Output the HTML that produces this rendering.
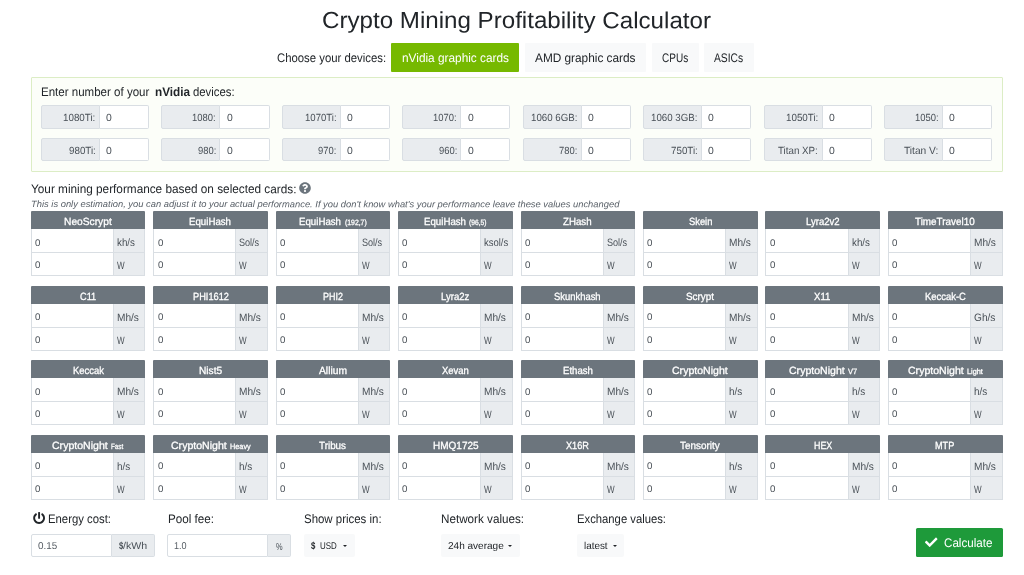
<!DOCTYPE html>
<html lang="en"><head><meta charset="utf-8"><title>Crypto Mining Profitability Calculator</title>
<style>
*{box-sizing:border-box}
html,body{margin:0;padding:0}
body{width:1024px;height:575px;position:relative;overflow:hidden;background:#fff;color:#212529;font-family:"Liberation Sans",sans-serif;font-size:12.4px}
.title{position:absolute;left:0;top:5.400px;width:1024px;margin:0;text-align:center;font-weight:400;font-size:23.2px;line-height:30px;padding-left:9px}
.choose{position:absolute;left:0;top:43px;height:29px;width:1024px}
.choose .lbl{position:absolute;left:277.300px;top:0.700px;line-height:29px;font-size:12.4px;white-space:nowrap}
.tab{position:absolute;top:0;height:29px;line-height:29px;padding-top:0.700px;text-align:center;background:#f8f9fa;font-size:12.4px;white-space:nowrap;border-radius:1px}
.tab.act{background:#76b900;color:#fff}
.panel{position:absolute;left:31px;top:77px;width:972px;height:95px;border:1px solid #dcedc5;background:#fcfef9;border-radius:1px}
.ptitle{position:absolute;left:8.800px;top:4px;font-size:12.4px;line-height:20px;white-space:pre}
.dg{position:absolute;width:108.200px;height:23.500px;display:flex;font-size:10.4px}
.dl{width:59px;height:100%;background:#e9ecef;border:1px solid #d9dee3;border-radius:2px 0 0 2px;text-align:right;padding-right:3.400px;padding-top:1.300px;line-height:21px;color:#495057;white-space:nowrap}
.di{flex:1;height:100%;background:#fff;border:1px solid #d9dee3;border-left:0;border-radius:0 2px 2px 0;padding-left:6.300px;padding-top:0.700px;line-height:21px;color:#495057}
.perf{position:absolute;left:31px;top:179px;font-size:12.4px;line-height:20px;white-space:nowrap}
.q{width:12px;height:12px;vertical-align:-1.150px;margin-left:-1px}
.note{position:absolute;left:31px;top:197px;font-size:9.2px;line-height:14px;font-style:italic;color:#596068;white-space:nowrap}
.card{position:absolute;width:114px;height:65px;font-size:9.7px}
.ch{height:18.200px;padding-top:2.200px;background:#6c757d;color:#fff;text-align:center;line-height:18.500px;font-size:10.4px;border-radius:1px 1px 0 0;white-space:nowrap;-webkit-text-stroke:0.3px #fff}
.ch small{font-size:7.7px;margin-left:3.300px}
.cr{display:flex;height:23px;margin-top:0}
.cr.r1{height:23.700px}
.cr.r1 .cv{padding-top:2.400px}
.cr.r1 .cu{padding-top:1.700px}
.cv{flex:1;border:1px solid #d9dee3;border-top:0;background:#fff;padding-left:3.300px;padding-top:1.300px;line-height:22px;color:#495057}
.cu{width:31.500px;border:1px solid #d9dee3;border-left:0;border-top:0;background:#e9ecef;padding-left:3.300px;padding-top:1.000px;font-size:10.7px;line-height:22px;color:#495057;white-space:nowrap}
.bl{position:absolute;top:509px;font-size:12.4px;line-height:20px;white-space:nowrap}
.pw{width:12.200px;height:12.200px;vertical-align:-1.300px;margin-left:-0.300px}
.ig{position:absolute;top:533.500px;height:23px;display:flex;font-size:10px;color:#495057}
.iv{flex:1;border:1px solid #d9dee3;background:#fff;padding-left:5.500px;padding-top:0.800px;line-height:21px;border-radius:2px 0 0 2px;color:#555c63}
.iu{border:1px solid #d9dee3;border-left:0;background:#e9ecef;text-align:center;line-height:21px;padding-top:0.800px;border-radius:0 2px 2px 0}
.dd{position:absolute;top:533.500px;height:23px;background:#f8f9fa;font-size:10px;line-height:23px;text-align:left;padding-left:7.300px;padding-top:0.800px;white-space:nowrap;border-radius:2px}
.sc{font-size:9.8px;margin-left:4.300px}
.caret{display:inline-block;width:0;height:0;border-left:2.500px solid transparent;border-right:2.500px solid transparent;border-top:2.600px solid #212529;vertical-align:2.600px}
.calc{position:absolute;left:916px;top:528px;width:86.500px;height:28.500px;background:#1e9a3a;color:#fff;font-size:12.4px;line-height:28.500px;padding-top:1.200px;padding-right:0.800px;text-align:center;border-radius:1.500px;white-space:nowrap}
.ck{width:12.500px;height:12.500px;vertical-align:-0.900px}
.f{display:inline-block;transform-origin:0 50%;white-space:nowrap}
.z{display:inline-block;transform:rotate(0.03deg)}

</style></head>
<body>
<h1 class="title"><span class="f" style="transform:rotate(0.03deg) scaleX(1.0408);margin-right:15.23px">Crypto Mining Profitability Calculator</span></h1>
<div class="choose"><span class="lbl"><span class="f" style="transform:rotate(0.03deg) scaleX(0.9157);margin-right:-10.05px">Choose your devices:</span></span><a class="tab act" style="left:391.25px;width:127.75px"><span class="f" style="transform:rotate(0.03deg) scaleX(0.9549);margin-right:-5.06px">nVidia graphic cards</span></a><a class="tab" style="left:524.5px;width:121.75px"><span class="f" style="transform:rotate(0.03deg) scaleX(0.9538);margin-right:-4.87px">AMD graphic cards</span></a><a class="tab" style="left:651.5px;width:47px"><span class="f" style="transform:rotate(0.03deg) scaleX(0.8084);margin-right:-6.20px">CPUs</span></a><a class="tab" style="left:704px;width:50px"><span class="f" style="transform:rotate(0.03deg) scaleX(0.8305);margin-right:-5.95px">ASICs</span></a></div>
<div class="panel"><div class="ptitle"><span class="f" style="transform:rotate(0.03deg) scaleX(0.9309);margin-right:-8.04px">Enter number of your</span><b style="margin-left:5.600px"><span class="f" style="transform:rotate(0.03deg) scaleX(0.9497);margin-right:-1.86px">nVidia</span></b><span style="margin-left:3.200px"></span><span class="f" style="transform:rotate(0.03deg) scaleX(0.9153);margin-right:-3.85px">devices:</span></div>
<div class="dg" style="left:8.90px;top:26.90px;height:24px"><span class="dl"><span class="f" style="transform:rotate(0.03deg) scaleX(0.9435);margin-right:-1.93px">1080Ti:</span></span><span class="di"><span class="z">0</span></span></div>
<div class="dg" style="left:129.36px;top:26.90px;height:24px"><span class="dl"><span class="f" style="transform:rotate(0.03deg) scaleX(0.9058);margin-right:-2.45px">1080:</span></span><span class="di"><span class="z">0</span></span></div>
<div class="dg" style="left:249.82px;top:26.90px;height:24px"><span class="dl"><span class="f" style="transform:rotate(0.03deg) scaleX(0.9211);margin-right:-2.70px">1070Ti:</span></span><span class="di"><span class="z">0</span></span></div>
<div class="dg" style="left:370.28px;top:26.90px;height:24px"><span class="dl"><span class="f" style="transform:rotate(0.03deg) scaleX(0.9058);margin-right:-2.45px">1070:</span></span><span class="di"><span class="z">0</span></span></div>
<div class="dg" style="left:490.74px;top:26.90px;height:24px"><span class="dl"><span class="f" style="transform:rotate(0.03deg) scaleX(0.9325);margin-right:-3.35px">1060 6GB:</span></span><span class="di"><span class="z">0</span></span></div>
<div class="dg" style="left:611.20px;top:26.90px;height:24px"><span class="dl"><span class="f" style="transform:rotate(0.03deg) scaleX(0.9325);margin-right:-3.35px">1060 3GB:</span></span><span class="di"><span class="z">0</span></span></div>
<div class="dg" style="left:731.66px;top:26.90px;height:24px"><span class="dl"><span class="f" style="transform:rotate(0.03deg) scaleX(0.9435);margin-right:-1.93px">1050Ti:</span></span><span class="di"><span class="z">0</span></span></div>
<div class="dg" style="left:852.12px;top:26.90px;height:24px"><span class="dl"><span class="f" style="transform:rotate(0.03deg) scaleX(0.9058);margin-right:-2.45px">1050:</span></span><span class="di"><span class="z">0</span></span></div>
<div class="dg" style="left:8.90px;top:59.70px;height:23.4px"><span class="dl"><span class="f" style="transform:rotate(0.03deg) scaleX(0.9418);margin-right:-1.66px">980Ti:</span></span><span class="di" style="padding-top:1.500px"><span class="z">0</span></span></div>
<div class="dg" style="left:129.36px;top:59.70px;height:23.4px"><span class="dl"><span class="f" style="transform:rotate(0.03deg) scaleX(0.9050);margin-right:-1.92px">980:</span></span><span class="di" style="padding-top:1.500px"><span class="z">0</span></span></div>
<div class="dg" style="left:249.82px;top:59.70px;height:23.4px"><span class="dl"><span class="f" style="transform:rotate(0.03deg) scaleX(0.9050);margin-right:-1.92px">970:</span></span><span class="di" style="padding-top:1.500px"><span class="z">0</span></span></div>
<div class="dg" style="left:370.28px;top:59.70px;height:23.4px"><span class="dl"><span class="f" style="transform:rotate(0.03deg) scaleX(0.9050);margin-right:-1.92px">960:</span></span><span class="di" style="padding-top:1.500px"><span class="z">0</span></span></div>
<div class="dg" style="left:490.74px;top:59.70px;height:23.4px"><span class="dl"><span class="f" style="transform:rotate(0.03deg) scaleX(0.9050);margin-right:-1.92px">780:</span></span><span class="di" style="padding-top:1.500px"><span class="z">0</span></span></div>
<div class="dg" style="left:611.20px;top:59.70px;height:23.4px"><span class="dl"><span class="f" style="transform:rotate(0.03deg) scaleX(0.9418);margin-right:-1.66px">750Ti:</span></span><span class="di" style="padding-top:1.500px"><span class="z">0</span></span></div>
<div class="dg" style="left:731.66px;top:59.70px;height:23.4px"><span class="dl"><span class="f" style="transform:rotate(0.03deg) scaleX(0.9406);margin-right:-2.51px">Titan XP:</span></span><span class="di" style="padding-top:1.500px"><span class="z">0</span></span></div>
<div class="dg" style="left:852.12px;top:59.70px;height:23.4px"><span class="dl"><span class="f" style="transform:rotate(0.03deg) scaleX(0.9811);margin-right:-0.66px">Titan V:</span></span><span class="di" style="padding-top:1.500px"><span class="z">0</span></span></div>
</div>
<div class="perf"><span class="f" style="transform:rotate(0.03deg) scaleX(0.9507);margin-right:-13.76px">Your mining performance based on selected cards:</span> <svg class="q" viewBox="0 0 512 512"><path fill="#6c757d" d="M504 256c0 136.997-111.043 248-248 248S8 392.997 8 256C8 119.083 119.043 8 256 8s248 111.083 248 248zM262.655 90c-54.497 0-89.255 22.957-116.549 63.758-3.536 5.286-2.353 12.415 2.715 16.258l34.699 26.31c5.205 3.947 12.621 3.008 16.665-2.122 17.864-22.658 30.113-35.797 57.303-35.797 20.429 0 45.698 13.148 45.698 32.958 0 14.976-12.363 22.667-32.534 33.976C247.128 238.528 216 254.941 216 296v4c0 6.627 5.373 12 12 12h56c6.627 0 12-5.373 12-12v-1.333c0-28.462 83.186-29.647 83.186-106.667 0-58.002-60.165-102-116.531-102zM256 338c-25.365 0-46 20.635-46 46 0 25.364 20.635 46 46 46s46-20.636 46-46c0-25.365-20.635-46-46-46z"/></svg></div>
<div class="note"><span class="f" style="transform:rotate(0.03deg) scaleX(1.0197);margin-right:11.37px">This is only estimation, you can adjust it to your actual performance. If you don't know what's your performance leave these values unchanged</span></div>
<div class="card" style="left:31.00px;top:211.30px;width:114.1px"><div class="ch"><span class="f" style="transform:rotate(0.03deg) scaleX(0.9841);margin-right:-0.77px">NeoScrypt</span></div><div class="cr r1"><span class="cv"><span class="z">0</span></span><span class="cu"><span class="f" style="transform:rotate(0.03deg) scaleX(0.9140);margin-right:-1.69px">kh/s</span></span></div><div class="cr"><span class="cv"><span class="z">0</span></span><span class="cu"><span class="f" style="transform:rotate(0.03deg) scaleX(0.7545);margin-right:-2.48px">W</span></span></div></div>
<div class="card" style="left:153.39px;top:211.30px;width:114.2px"><div class="ch"><span class="f" style="transform:rotate(0.03deg) scaleX(0.9321);margin-right:-3.06px">EquiHash</span></div><div class="cr r1"><span class="cv"><span class="z">0</span></span><span class="cu"><span class="f" style="transform:rotate(0.03deg) scaleX(0.8477);margin-right:-3.62px">Sol/s</span></span></div><div class="cr"><span class="cv"><span class="z">0</span></span><span class="cu"><span class="f" style="transform:rotate(0.03deg) scaleX(0.7545);margin-right:-2.48px">W</span></span></div></div>
<div class="card" style="left:275.78px;top:211.30px;width:114.3px"><div class="ch"><span class="f" style="transform:rotate(0.03deg) scaleX(0.9321);margin-right:-3.06px">EquiHash</span><small><span class="f" style="transform:rotate(0.03deg) scaleX(0.8912);margin-right:-2.65px">(192,7)</span></small></div><div class="cr r1"><span class="cv"><span class="z">0</span></span><span class="cu"><span class="f" style="transform:rotate(0.03deg) scaleX(0.8477);margin-right:-3.62px">Sol/s</span></span></div><div class="cr"><span class="cv"><span class="z">0</span></span><span class="cu"><span class="f" style="transform:rotate(0.03deg) scaleX(0.7545);margin-right:-2.48px">W</span></span></div></div>
<div class="card" style="left:398.17px;top:211.30px;width:114.4px"><div class="ch"><span class="f" style="transform:rotate(0.03deg) scaleX(0.9321);margin-right:-3.06px">EquiHash</span><small><span class="f" style="transform:rotate(0.03deg) scaleX(0.8698);margin-right:-2.61px">(96,5)</span></small></div><div class="cr r1"><span class="cv"><span class="z">0</span></span><span class="cu"><span class="f" style="transform:rotate(0.03deg) scaleX(0.8841);margin-right:-3.16px">ksol/s</span></span></div><div class="cr"><span class="cv"><span class="z">0</span></span><span class="cu"><span class="f" style="transform:rotate(0.03deg) scaleX(0.7545);margin-right:-2.48px">W</span></span></div></div>
<div class="card" style="left:520.56px;top:211.30px;width:114.5px"><div class="ch"><span class="f" style="transform:rotate(0.03deg) scaleX(0.9359);margin-right:-1.96px">ZHash</span></div><div class="cr r1"><span class="cv"><span class="z">0</span></span><span class="cu"><span class="f" style="transform:rotate(0.03deg) scaleX(0.8477);margin-right:-3.62px">Sol/s</span></span></div><div class="cr"><span class="cv"><span class="z">0</span></span><span class="cu"><span class="f" style="transform:rotate(0.03deg) scaleX(0.7545);margin-right:-2.48px">W</span></span></div></div>
<div class="card" style="left:642.95px;top:211.30px;width:114.6px"><div class="ch"><span class="f" style="transform:rotate(0.03deg) scaleX(0.9003);margin-right:-2.59px">Skein</span></div><div class="cr r1"><span class="cv"><span class="z">0</span></span><span class="cu"><span class="f" style="transform:rotate(0.03deg) scaleX(0.9467);margin-right:-1.23px">Mh/s</span></span></div><div class="cr"><span class="cv"><span class="z">0</span></span><span class="cu"><span class="f" style="transform:rotate(0.03deg) scaleX(0.7545);margin-right:-2.48px">W</span></span></div></div>
<div class="card" style="left:765.34px;top:211.30px;width:114.7px"><div class="ch"><span class="f" style="transform:rotate(0.03deg) scaleX(0.9198);margin-right:-2.93px">Lyra2v2</span></div><div class="cr r1"><span class="cv"><span class="z">0</span></span><span class="cu"><span class="f" style="transform:rotate(0.03deg) scaleX(0.9140);margin-right:-1.69px">kh/s</span></span></div><div class="cr"><span class="cv"><span class="z">0</span></span><span class="cu"><span class="f" style="transform:rotate(0.03deg) scaleX(0.7545);margin-right:-2.48px">W</span></span></div></div>
<div class="card" style="left:887.73px;top:211.30px;width:114.8px"><div class="ch"><span class="f" style="transform:rotate(0.03deg) scaleX(0.9505);margin-right:-3.10px">TimeTravel10</span></div><div class="cr r1"><span class="cv"><span class="z">0</span></span><span class="cu"><span class="f" style="transform:rotate(0.03deg) scaleX(0.9467);margin-right:-1.23px">Mh/s</span></span></div><div class="cr"><span class="cv"><span class="z">0</span></span><span class="cu"><span class="f" style="transform:rotate(0.03deg) scaleX(0.7545);margin-right:-2.48px">W</span></span></div></div>
<div class="card" style="left:31.00px;top:285.75px;width:114.1px"><div class="ch"><span class="f" style="transform:rotate(0.03deg) scaleX(0.8833);margin-right:-2.13px">C11</span></div><div class="cr r1"><span class="cv"><span class="z">0</span></span><span class="cu"><span class="f" style="transform:rotate(0.03deg) scaleX(0.9467);margin-right:-1.23px">Mh/s</span></span></div><div class="cr"><span class="cv"><span class="z">0</span></span><span class="cu"><span class="f" style="transform:rotate(0.03deg) scaleX(0.7545);margin-right:-2.48px">W</span></span></div></div>
<div class="card" style="left:153.39px;top:285.75px;width:114.2px"><div class="ch"><span class="f" style="transform:rotate(0.03deg) scaleX(0.8879);margin-right:-4.53px">PHI1612</span></div><div class="cr r1"><span class="cv"><span class="z">0</span></span><span class="cu"><span class="f" style="transform:rotate(0.03deg) scaleX(0.9467);margin-right:-1.23px">Mh/s</span></span></div><div class="cr"><span class="cv"><span class="z">0</span></span><span class="cu"><span class="f" style="transform:rotate(0.03deg) scaleX(0.7545);margin-right:-2.48px">W</span></span></div></div>
<div class="card" style="left:275.78px;top:285.75px;width:114.3px"><div class="ch"><span class="f" style="transform:rotate(0.03deg) scaleX(0.8619);margin-right:-3.19px">PHI2</span></div><div class="cr r1"><span class="cv"><span class="z">0</span></span><span class="cu"><span class="f" style="transform:rotate(0.03deg) scaleX(0.9467);margin-right:-1.23px">Mh/s</span></span></div><div class="cr"><span class="cv"><span class="z">0</span></span><span class="cu"><span class="f" style="transform:rotate(0.03deg) scaleX(0.7545);margin-right:-2.48px">W</span></span></div></div>
<div class="card" style="left:398.17px;top:285.75px;width:114.4px"><div class="ch"><span class="f" style="transform:rotate(0.03deg) scaleX(0.9181);margin-right:-2.52px">Lyra2z</span></div><div class="cr r1"><span class="cv"><span class="z">0</span></span><span class="cu"><span class="f" style="transform:rotate(0.03deg) scaleX(0.9467);margin-right:-1.23px">Mh/s</span></span></div><div class="cr"><span class="cv"><span class="z">0</span></span><span class="cu"><span class="f" style="transform:rotate(0.03deg) scaleX(0.7545);margin-right:-2.48px">W</span></span></div></div>
<div class="card" style="left:520.56px;top:285.75px;width:114.5px"><div class="ch"><span class="f" style="transform:rotate(0.03deg) scaleX(0.9064);margin-right:-4.81px">Skunkhash</span></div><div class="cr r1"><span class="cv"><span class="z">0</span></span><span class="cu"><span class="f" style="transform:rotate(0.03deg) scaleX(0.9467);margin-right:-1.23px">Mh/s</span></span></div><div class="cr"><span class="cv"><span class="z">0</span></span><span class="cu"><span class="f" style="transform:rotate(0.03deg) scaleX(0.7545);margin-right:-2.48px">W</span></span></div></div>
<div class="card" style="left:642.95px;top:285.75px;width:114.6px"><div class="ch"><span class="f" style="transform:rotate(0.03deg) scaleX(0.9506);margin-right:-1.45px">Scrypt</span></div><div class="cr r1"><span class="cv"><span class="z">0</span></span><span class="cu"><span class="f" style="transform:rotate(0.03deg) scaleX(0.9467);margin-right:-1.23px">Mh/s</span></span></div><div class="cr"><span class="cv"><span class="z">0</span></span><span class="cu"><span class="f" style="transform:rotate(0.03deg) scaleX(0.7545);margin-right:-2.48px">W</span></span></div></div>
<div class="card" style="left:765.34px;top:285.75px;width:114.7px"><div class="ch"><span class="f" style="transform:rotate(0.03deg) scaleX(0.9254);margin-right:-1.32px">X11</span></div><div class="cr r1"><span class="cv"><span class="z">0</span></span><span class="cu"><span class="f" style="transform:rotate(0.03deg) scaleX(0.9467);margin-right:-1.23px">Mh/s</span></span></div><div class="cr"><span class="cv"><span class="z">0</span></span><span class="cu"><span class="f" style="transform:rotate(0.03deg) scaleX(0.7545);margin-right:-2.48px">W</span></span></div></div>
<div class="card" style="left:887.73px;top:285.75px;width:114.8px"><div class="ch"><span class="f" style="transform:rotate(0.03deg) scaleX(0.9081);margin-right:-4.14px">Keccak-C</span></div><div class="cr r1"><span class="cv"><span class="z">0</span></span><span class="cu"><span class="f" style="transform:rotate(0.03deg) scaleX(0.9493);margin-right:-1.14px">Gh/s</span></span></div><div class="cr"><span class="cv"><span class="z">0</span></span><span class="cu"><span class="f" style="transform:rotate(0.03deg) scaleX(0.7545);margin-right:-2.48px">W</span></span></div></div>
<div class="card" style="left:31.00px;top:360.20px;width:114.1px"><div class="ch"><span class="f" style="transform:rotate(0.03deg) scaleX(0.9060);margin-right:-3.20px">Keccak</span></div><div class="cr r1"><span class="cv"><span class="z">0</span></span><span class="cu"><span class="f" style="transform:rotate(0.03deg) scaleX(0.9467);margin-right:-1.23px">Mh/s</span></span></div><div class="cr"><span class="cv"><span class="z">0</span></span><span class="cu"><span class="f" style="transform:rotate(0.03deg) scaleX(0.7545);margin-right:-2.48px">W</span></span></div></div>
<div class="card" style="left:153.39px;top:360.20px;width:114.2px"><div class="ch"><span class="f" style="transform:rotate(0.03deg) scaleX(0.9772);margin-right:-0.54px">Nist5</span></div><div class="cr r1"><span class="cv"><span class="z">0</span></span><span class="cu"><span class="f" style="transform:rotate(0.03deg) scaleX(0.9467);margin-right:-1.23px">Mh/s</span></span></div><div class="cr"><span class="cv"><span class="z">0</span></span><span class="cu"><span class="f" style="transform:rotate(0.03deg) scaleX(0.7545);margin-right:-2.48px">W</span></span></div></div>
<div class="card" style="left:275.78px;top:360.20px;width:114.3px"><div class="ch"><span class="f" style="transform:rotate(0.03deg) scaleX(0.9897);margin-right:-0.29px">Allium</span></div><div class="cr r1"><span class="cv"><span class="z">0</span></span><span class="cu"><span class="f" style="transform:rotate(0.03deg) scaleX(0.9467);margin-right:-1.23px">Mh/s</span></span></div><div class="cr"><span class="cv"><span class="z">0</span></span><span class="cu"><span class="f" style="transform:rotate(0.03deg) scaleX(0.7545);margin-right:-2.48px">W</span></span></div></div>
<div class="card" style="left:398.17px;top:360.20px;width:114.4px"><div class="ch"><span class="f" style="transform:rotate(0.03deg) scaleX(0.9130);margin-right:-2.56px">Xevan</span></div><div class="cr r1"><span class="cv"><span class="z">0</span></span><span class="cu"><span class="f" style="transform:rotate(0.03deg) scaleX(0.9467);margin-right:-1.23px">Mh/s</span></span></div><div class="cr"><span class="cv"><span class="z">0</span></span><span class="cu"><span class="f" style="transform:rotate(0.03deg) scaleX(0.7545);margin-right:-2.48px">W</span></span></div></div>
<div class="card" style="left:520.56px;top:360.20px;width:114.5px"><div class="ch"><span class="f" style="transform:rotate(0.03deg) scaleX(0.9242);margin-right:-2.45px">Ethash</span></div><div class="cr r1"><span class="cv"><span class="z">0</span></span><span class="cu"><span class="f" style="transform:rotate(0.03deg) scaleX(0.9467);margin-right:-1.23px">Mh/s</span></span></div><div class="cr"><span class="cv"><span class="z">0</span></span><span class="cu"><span class="f" style="transform:rotate(0.03deg) scaleX(0.7545);margin-right:-2.48px">W</span></span></div></div>
<div class="card" style="left:642.95px;top:360.20px;width:114.6px"><div class="ch"><span class="f" style="transform:rotate(0.03deg) scaleX(1.0159);margin-right:0.87px">CryptoNight</span></div><div class="cr r1"><span class="cv"><span class="z">0</span></span><span class="cu"><span class="f" style="transform:rotate(0.03deg) scaleX(0.9236);margin-right:-1.09px">h/s</span></span></div><div class="cr"><span class="cv"><span class="z">0</span></span><span class="cu"><span class="f" style="transform:rotate(0.03deg) scaleX(0.7545);margin-right:-2.48px">W</span></span></div></div>
<div class="card" style="left:765.34px;top:360.20px;width:114.7px"><div class="ch"><span class="f" style="transform:rotate(0.03deg) scaleX(1.0159);margin-right:0.87px">CryptoNight</span><small><span class="f" style="transform:rotate(0.03deg) scaleX(0.9696);margin-right:-0.29px">V7</span></small></div><div class="cr r1"><span class="cv"><span class="z">0</span></span><span class="cu"><span class="f" style="transform:rotate(0.03deg) scaleX(0.9236);margin-right:-1.09px">h/s</span></span></div><div class="cr"><span class="cv"><span class="z">0</span></span><span class="cu"><span class="f" style="transform:rotate(0.03deg) scaleX(0.7545);margin-right:-2.48px">W</span></span></div></div>
<div class="card" style="left:887.73px;top:360.20px;width:114.8px"><div class="ch"><span class="f" style="transform:rotate(0.03deg) scaleX(1.0159);margin-right:0.87px">CryptoNight</span><small><span class="f" style="transform:rotate(0.03deg) scaleX(0.9467);margin-right:-0.89px">Light</span></small></div><div class="cr r1"><span class="cv"><span class="z">0</span></span><span class="cu"><span class="f" style="transform:rotate(0.03deg) scaleX(0.9236);margin-right:-1.09px">h/s</span></span></div><div class="cr"><span class="cv"><span class="z">0</span></span><span class="cu"><span class="f" style="transform:rotate(0.03deg) scaleX(0.7545);margin-right:-2.48px">W</span></span></div></div>
<div class="card" style="left:31.00px;top:434.65px;width:114.1px"><div class="ch"><span class="f" style="transform:rotate(0.03deg) scaleX(1.0159);margin-right:0.87px">CryptoNight</span><small><span class="f" style="transform:rotate(0.03deg) scaleX(0.8125);margin-right:-2.80px">Fast</span></small></div><div class="cr r1"><span class="cv"><span class="z">0</span></span><span class="cu"><span class="f" style="transform:rotate(0.03deg) scaleX(0.9236);margin-right:-1.09px">h/s</span></span></div><div class="cr"><span class="cv"><span class="z">0</span></span><span class="cu"><span class="f" style="transform:rotate(0.03deg) scaleX(0.7545);margin-right:-2.48px">W</span></span></div></div>
<div class="card" style="left:153.39px;top:434.65px;width:114.2px"><div class="ch"><span class="f" style="transform:rotate(0.03deg) scaleX(1.0159);margin-right:0.87px">CryptoNight</span><small><span class="f" style="transform:rotate(0.03deg) scaleX(0.9500);margin-right:-1.09px">Heavy</span></small></div><div class="cr r1"><span class="cv"><span class="z">0</span></span><span class="cu"><span class="f" style="transform:rotate(0.03deg) scaleX(0.9236);margin-right:-1.09px">h/s</span></span></div><div class="cr"><span class="cv"><span class="z">0</span></span><span class="cu"><span class="f" style="transform:rotate(0.03deg) scaleX(0.7545);margin-right:-2.48px">W</span></span></div></div>
<div class="card" style="left:275.78px;top:434.65px;width:114.3px"><div class="ch"><span class="f" style="transform:rotate(0.03deg) scaleX(0.9492);margin-right:-1.45px">Tribus</span></div><div class="cr r1"><span class="cv"><span class="z">0</span></span><span class="cu"><span class="f" style="transform:rotate(0.03deg) scaleX(0.9467);margin-right:-1.23px">Mh/s</span></span></div><div class="cr"><span class="cv"><span class="z">0</span></span><span class="cu"><span class="f" style="transform:rotate(0.03deg) scaleX(0.7545);margin-right:-2.48px">W</span></span></div></div>
<div class="card" style="left:398.17px;top:434.65px;width:114.4px"><div class="ch"><span class="f" style="transform:rotate(0.03deg) scaleX(0.9637);margin-right:-1.72px">HMQ1725</span></div><div class="cr r1"><span class="cv"><span class="z">0</span></span><span class="cu"><span class="f" style="transform:rotate(0.03deg) scaleX(0.9467);margin-right:-1.23px">Mh/s</span></span></div><div class="cr"><span class="cv"><span class="z">0</span></span><span class="cu"><span class="f" style="transform:rotate(0.03deg) scaleX(0.7545);margin-right:-2.48px">W</span></span></div></div>
<div class="card" style="left:520.56px;top:434.65px;width:114.5px"><div class="ch"><span class="f" style="transform:rotate(0.03deg) scaleX(0.8815);margin-right:-3.08px">X16R</span></div><div class="cr r1"><span class="cv"><span class="z">0</span></span><span class="cu"><span class="f" style="transform:rotate(0.03deg) scaleX(0.9467);margin-right:-1.23px">Mh/s</span></span></div><div class="cr"><span class="cv"><span class="z">0</span></span><span class="cu"><span class="f" style="transform:rotate(0.03deg) scaleX(0.7545);margin-right:-2.48px">W</span></span></div></div>
<div class="card" style="left:642.95px;top:434.65px;width:114.6px"><div class="ch"><span class="f" style="transform:rotate(0.03deg) scaleX(0.9521);margin-right:-1.99px">Tensority</span></div><div class="cr r1"><span class="cv"><span class="z">0</span></span><span class="cu"><span class="f" style="transform:rotate(0.03deg) scaleX(0.9236);margin-right:-1.09px">h/s</span></span></div><div class="cr"><span class="cv"><span class="z">0</span></span><span class="cu"><span class="f" style="transform:rotate(0.03deg) scaleX(0.7545);margin-right:-2.48px">W</span></span></div></div>
<div class="card" style="left:765.34px;top:434.65px;width:114.7px"><div class="ch"><span class="f" style="transform:rotate(0.03deg) scaleX(0.8561);margin-right:-3.07px">HEX</span></div><div class="cr r1"><span class="cv"><span class="z">0</span></span><span class="cu"><span class="f" style="transform:rotate(0.03deg) scaleX(0.9467);margin-right:-1.23px">Mh/s</span></span></div><div class="cr"><span class="cv"><span class="z">0</span></span><span class="cu"><span class="f" style="transform:rotate(0.03deg) scaleX(0.7545);margin-right:-2.48px">W</span></span></div></div>
<div class="card" style="left:887.73px;top:434.65px;width:114.8px"><div class="ch"><span class="f" style="transform:rotate(0.03deg) scaleX(0.8794);margin-right:-2.64px">MTP</span></div><div class="cr r1"><span class="cv"><span class="z">0</span></span><span class="cu"><span class="f" style="transform:rotate(0.03deg) scaleX(0.9467);margin-right:-1.23px">Mh/s</span></span></div><div class="cr"><span class="cv"><span class="z">0</span></span><span class="cu"><span class="f" style="transform:rotate(0.03deg) scaleX(0.7545);margin-right:-2.48px">W</span></span></div></div>
<div class="bl" style="left:33px"><svg class="pw" viewBox="0 0 512 512"><path fill="#212529" d="M400 54.1c63 45 104 118.600 104 201.900 0 136.800-110.800 247.700-247.500 248C120 504.300 8.200 393 8 256.400 7.900 173.100 48.900 99.300 111.800 54.200c11.700-8.300 28-4.800 35 7.700L162.600 90c5.900 10.500 3.100 23.800-6.600 31-41.500 30.800-68 79.600-68 134.900-.1 92.300 74.500 168.100 168 168.100 91.600 0 168.600-74.200 168-169.100-.3-51.800-24.700-101.800-68.100-134-9.700-7.200-12.400-20.500-6.500-30.900l15.800-28.100c7-12.400 23.200-16.100 34.800-7.800zM296 264V24c0-13.300-10.700-24-24-24h-32c-13.300 0-24 10.700-24 24v240c0 13.300 10.700 24 24 24h32c13.300 0 24-10.700 24-24z"/></svg><span style="margin-left:3.600px"><span class="f" style="transform:rotate(0.03deg) scaleX(0.9151);margin-right:-5.85px">Energy cost:</span></span></div>
<div class="bl" style="left:167.500px"><span class="f" style="transform:rotate(0.03deg) scaleX(0.9417);margin-right:-2.85px">Pool fee:</span></div>
<div class="bl" style="left:304px"><span class="f" style="transform:rotate(0.03deg) scaleX(0.9237);margin-right:-6.41px">Show prices in:</span></div>
<div class="bl" style="left:440.500px"><span class="f" style="transform:rotate(0.03deg) scaleX(0.9423);margin-right:-5.08px">Network values:</span></div>
<div class="bl" style="left:577px"><span class="f" style="transform:rotate(0.03deg) scaleX(0.9100);margin-right:-8.80px">Exchange values:</span></div>
<div class="ig" style="left:31px;width:124px"><span class="iv"><span class="f" style="transform:rotate(0.03deg) scaleX(0.9849);margin-right:-0.29px">0.15</span></span><span class="iu" style="width:43.500px"><b><span class="f" style="transform:rotate(0.03deg) scaleX(0.7667);margin-right:-1.30px">$</span></b><span class="f" style="transform:rotate(0.03deg) scaleX(1.0623);margin-right:1.42px">/kWh</span></span></div>
<div class="ig" style="left:167px;width:124px"><span class="iv"><span class="f" style="transform:rotate(0.03deg) scaleX(0.9066);margin-right:-1.30px">1.0</span></span><span class="iu" style="width:22.800px;padding-left:0.400px;padding-top:1.300px"><span class="f" style="transform:rotate(0.03deg) scaleX(0.7400);margin-right:-2.50px">%</span></span></div>
<div class="dd" style="left:304px;width:51px"><b><span class="f" style="transform:rotate(0.03deg) scaleX(0.7833);margin-right:-1.25px">$</span></b><span class="sc"><span class="f" style="transform:rotate(0.03deg) scaleX(0.8103);margin-right:-3.92px">USD</span></span><i class="caret" style="margin-left:6.200px;border-left-width:2.700px;border-right-width:2.700px"></i></div>
<div class="dd" style="left:440.500px;width:79.500px"><span class="f" style="transform:rotate(0.03deg) scaleX(1.0029);margin-right:0.16px">24h average</span><i class="caret" style="margin-left:4.700px"></i></div>
<div class="dd" style="left:577px;width:47px"><span class="f" style="transform:rotate(0.03deg) scaleX(0.9866);margin-right:-0.32px">latest</span><i class="caret" style="margin-left:4.700px"></i></div>
<div class="calc"><svg class="ck" viewBox="0 0 512 512"><path fill="#fff" d="M173.898 439.404l-166.400-166.400c-9.997-9.997-9.997-26.206 0-36.204l36.203-36.204c9.997-9.998 26.207-9.998 36.204 0L192 312.690 432.095 72.596c9.997-9.997 26.207-9.997 36.204 0l36.203 36.204c9.997 9.997 9.997 26.206 0 36.204l-294.400 294.401c-9.998 9.997-26.207 9.997-36.204-.001z"/></svg><span style="margin-left:5.800px"><span class="f" style="transform:rotate(0.03deg) scaleX(0.9389);margin-right:-3.16px">Calculate</span></span></div>
</body></html>
